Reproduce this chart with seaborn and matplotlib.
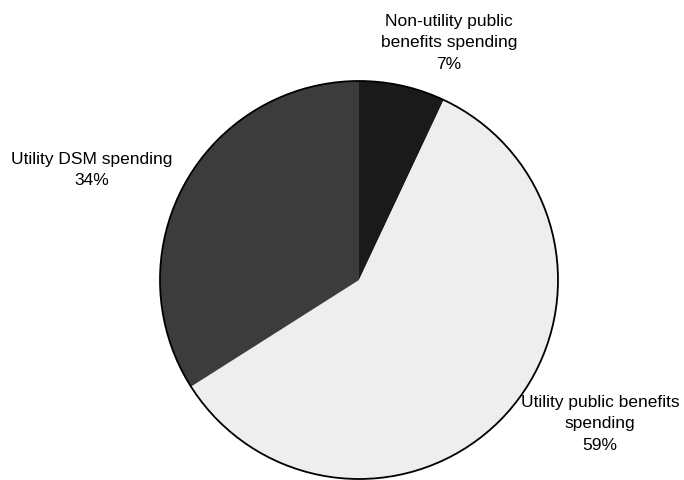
import matplotlib
matplotlib.use("Agg")
import matplotlib.pyplot as plt
import seaborn as sns

# Data
categories = ["Non-utility public\nbenefits spending", "Utility public benefits\nspending", "Utility DSM spending"]
shares = [7, 59, 34]
label_texts = ["Non-utility public\nbenefits spending\n7%",
               "Utility public benefits\nspending\n59%",
               "Utility DSM spending\n34%"]

sns.set_theme(style="white")
plt.rcParams['font.family'] = ['Liberation Sans', 'DejaVu Sans']

slice_colors = ["#1a1a1a", "#eeeeee", "#3c3c3c"]

fig = plt.figure(figsize=(6.84, 4.81), dpi=100)
ax = fig.add_axes([0, 0, 1, 1])

wedges, _ = ax.pie(shares, colors=slice_colors, startangle=-90, counterclock=True,
                   center=(359, 281), radius=199,
                   wedgeprops=dict(edgecolor="none", linewidth=0))
# outer outline
outline = plt.Circle((359, 281), 199, fill=False, edgecolor="black", linewidth=1.3)
ax.add_patch(outline)

ax.set_xlim(0, 684)
ax.set_ylim(481, 0)
ax.set_aspect('equal')
ax.axis('off')

label_pos = [(449, 43), (600, 424), (92, 170)]
for txt, (x, y) in zip(label_texts, label_pos):
    ax.text(x, y, txt, ha="center", va="center", fontsize=12.5, color="black",
            linespacing=1.55)

fig.savefig("out.png", dpi=100)
